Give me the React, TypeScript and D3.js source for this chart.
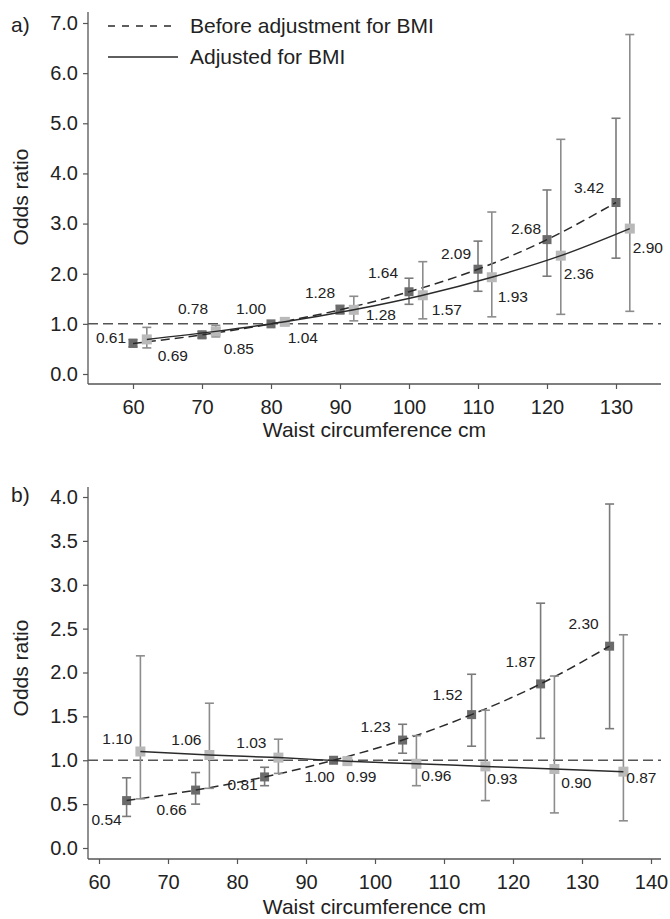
import React, { useEffect, useRef } from 'react'
import * as d3 from 'd3'

// panel a) waist 60..130, before / after BMI adjustment
const aBeforeX = [60, 70, 80, 90, 100, 110, 120, 130]
const aBeforeOR = [0.61, 0.78, 1.0, 1.28, 1.64, 2.09, 2.68, 3.42]
const aBeforeLo = [0.54, 0.72, null, 1.2, 1.39, 1.65, 1.95, 2.31]
const aBeforeHi = [0.69, 0.85, null, 1.37, 1.91, 2.65, 3.67, 5.1]

const aAdjX = [62, 72, 82, 92, 102, 112, 122, 132]
const aAdjOR = [0.69, 0.85, 1.04, 1.28, 1.57, 1.93, 2.36, 2.9]
const aAdjLo = [0.52, 0.74, 0.97, 1.06, 1.1, 1.14, 1.19, 1.25]
const aAdjHi = [0.93, 0.97, 1.12, 1.55, 2.24, 3.23, 4.68, 6.77]

// panel b)
const bBeforeX = [64, 74, 84, 94, 104, 114, 124, 134]
const bBeforeOR = [0.54, 0.66, 0.81, 1.0, 1.23, 1.52, 1.87, 2.3]
const bBeforeLo = [0.36, 0.5, 0.71, null, 1.08, 1.16, 1.25, 1.36]
const bBeforeHi = [0.8, 0.86, 0.92, null, 1.41, 1.98, 2.79, 3.92]

const bAdjX = [66, 76, 86, 96, 106, 116, 126, 136]
const bAdjOR = [1.1, 1.06, 1.03, 0.99, 0.96, 0.93, 0.9, 0.87]
const bAdjLo = [0.56, 0.68, 0.85, 0.95, 0.71, 0.54, 0.4, 0.31]
const bAdjHi = [2.19, 1.65, 1.24, 1.03, 1.28, 1.57, 1.96, 2.43]

const aXTicks = [60, 70, 80, 90, 100, 110, 120, 130]
const aYTicks = [0, 1, 2, 3, 4, 5, 6, 7]
const bXTicks = [60, 70, 80, 90, 100, 110, 120, 130, 140]
const bYTicks = [0, 0.5, 1, 1.5, 2, 2.5, 3, 3.5, 4]

// label offsets (px from marker centre), picked by eye
const aBeforeLab = [[-22, -6], [-9, -26], [-20, -15], [-20, -17], [-26, -19], [-22, -16], [-21, -11], [-27, -15]]
const aAdjLab = [[26, 16], [23, 17], [18, 16], [27, 5], [24, 14], [21, 19], [18, 18], [18, 19]]
const bBeforeLab = [[-20, 19], [-24, 19], [-22, 7], [-14, 16], [-27, -14], [-24, -20], [-20, -22], [-26, -23]]
const bAdjLab = [[-23, -13], [-23, -16], [-27, -15], [14, 15], [20, 12], [17, 12], [22, 13], [18, 6]]

const FONT = '"Liberation Sans", Arial, Helvetica, sans-serif'
const INK = '#222'
const AXIS = '#555'

function drawPanel(svg, p) {
    const g = svg.append('g')
    const x = d3.scaleLinear().domain(p.xDomain).range(p.xRange)
    const y = d3.scaleLinear().domain(p.yDomain).range(p.yRange)
    const left = 88, right = 661

    // axes lines
    g.append('line').attr('x1', left).attr('x2', left).attr('y1', p.axisBottom).attr('y2', p.axisTop)
        .attr('stroke', AXIS).attr('stroke-width', 1.3)
    g.append('line').attr('x1', left).attr('x2', right).attr('y1', p.axisBottom).attr('y2', p.axisBottom)
        .attr('stroke', AXIS).attr('stroke-width', 1.3)

    const yAx = g.append('g').attr('transform', `translate(${left},0)`)
        .call(d3.axisLeft(y).tickValues(p.yTicks).tickFormat(d3.format('.1f')).tickSize(5).tickPadding(5))
    yAx.select('.domain').remove()
    yAx.selectAll('line').attr('stroke', AXIS).attr('stroke-width', 1.2)
    yAx.selectAll('text').attr('font-family', FONT).attr('font-size', 20).attr('fill', INK)

    const xAx = g.append('g').attr('transform', `translate(0,${p.axisBottom})`)
        .call(d3.axisBottom(x).tickValues(p.xTicks).tickFormat(d3.format('d')).tickSize(5))
    xAx.select('.domain').remove()
    xAx.selectAll('line').attr('stroke', AXIS).attr('stroke-width', 1.2)
    xAx.selectAll('text').attr('font-family', FONT).attr('font-size', 20).attr('fill', INK)
        .attr('y', 30).attr('dy', 0)

    // reference line at OR = 1
    g.append('line').attr('x1', left).attr('x2', right).attr('y1', y(1)).attr('y2', y(1))
        .attr('stroke', AXIS).attr('stroke-width', 1.5).attr('stroke-dasharray', '10,5')

    const series = [
        { xs: p.beforeX, or: p.beforeOR, lo: p.beforeLo, hi: p.beforeHi, lab: p.beforeLab, fill: '#6b6b6b', size: 9, dash: '9,5', bar: '#7a7a7a' },
        { xs: p.adjX, or: p.adjOR, lo: p.adjLo, hi: p.adjHi, lab: p.adjLab, fill: '#b9b9b9', size: 10, dash: null, bar: '#8c8c8c' },
    ]

    series.forEach(s => {
        const pts = s.xs.map((v, i) => ({ x: v, or: s.or[i], lo: s.lo[i], hi: s.hi[i], lab: s.lab[i] }))
        const bars = g.append('g')
        pts.filter(d => d.lo != null).forEach(d => {
            bars.append('line').attr('x1', x(d.x)).attr('x2', x(d.x)).attr('y1', y(d.lo)).attr('y2', y(d.hi))
                .attr('stroke', s.bar).attr('stroke-width', 1.6)
            ;[d.lo, d.hi].forEach(v => {
                bars.append('line').attr('x1', x(d.x) - 4.5).attr('x2', x(d.x) + 4.5).attr('y1', y(v)).attr('y2', y(v))
                    .attr('stroke', s.bar).attr('stroke-width', 1.6)
            })
        })
        g.append('g').selectAll('rect').data(pts).enter().append('rect')
            .attr('x', d => x(d.x) - s.size / 2).attr('y', d => y(d.or) - s.size / 2)
            .attr('width', s.size).attr('height', s.size).attr('fill', s.fill)
        const line = d3.line().x(d => x(d.x)).y(d => y(d.or)).curve(d3.curveMonotoneX)
        g.append('path').datum(pts).attr('d', line).attr('fill', 'none')
            .attr('stroke', '#2a2a2a').attr('stroke-width', 1.5)
            .attr('stroke-dasharray', s.dash)
        g.append('g').selectAll('text').data(pts).enter().append('text')
            .attr('x', d => x(d.x) + d.lab[0]).attr('y', d => y(d.or) + d.lab[1])
            .attr('dy', '0.36em').attr('text-anchor', 'middle')
            .attr('font-family', FONT).attr('font-size', 15.5).attr('fill', INK)
            .text(d => d.or.toFixed(2))
    })

    g.append('text').attr('x', (left + right) / 2).attr('y', p.titleY).attr('text-anchor', 'middle')
        .attr('font-family', FONT).attr('font-size', 21).attr('fill', INK).text('Waist circumference cm')
    g.append('text').attr('transform', `translate(28,${p.yTitleY}) rotate(-90)`).attr('text-anchor', 'middle')
        .attr('font-family', FONT).attr('font-size', 21).attr('fill', INK).text('Odds ratio')
    g.append('text').attr('x', 11).attr('y', p.tagY)
        .attr('font-family', FONT).attr('font-size', 21).attr('fill', INK).text(p.tag)
}

export default function App() {
    const ref = useRef(null)

    useEffect(() => {
        const svg = d3.select(ref.current)
        svg.selectAll('*').remove()

        drawPanel(svg, {
            tag: 'a)', tagY: 32,
            xDomain: [60, 130], xRange: [133, 616],
            yDomain: [0, 7], yRange: [374, 23],
            axisTop: 12, axisBottom: 384,
            xTicks: aXTicks, yTicks: aYTicks,
            beforeX: aBeforeX, beforeOR: aBeforeOR, beforeLo: aBeforeLo, beforeHi: aBeforeHi, beforeLab: aBeforeLab,
            adjX: aAdjX, adjOR: aAdjOR, adjLo: aAdjLo, adjHi: aAdjHi, adjLab: aAdjLab,
            titleY: 437, yTitleY: 197,
        })
        drawPanel(svg, {
            tag: 'b)', tagY: 502,
            xDomain: [60, 140], xRange: [99, 651],
            yDomain: [0, 4], yRange: [848, 497],
            axisTop: 487, axisBottom: 859,
            xTicks: bXTicks, yTicks: bYTicks,
            beforeX: bBeforeX, beforeOR: bBeforeOR, beforeLo: bBeforeLo, beforeHi: bBeforeHi, beforeLab: bBeforeLab,
            adjX: bAdjX, adjOR: bAdjOR, adjLo: bAdjLo, adjHi: bAdjHi, adjLab: bAdjLab,
            titleY: 914, yTitleY: 668,
        })

        // legend
        const lg = svg.append('g')
        lg.append('line').attr('x1', 108).attr('x2', 176).attr('y1', 26).attr('y2', 26)
            .attr('stroke', '#2a2a2a').attr('stroke-width', 1.4).attr('stroke-dasharray', '7,7')
        lg.append('line').attr('x1', 108).attr('x2', 178).attr('y1', 57).attr('y2', 57)
            .attr('stroke', '#2a2a2a').attr('stroke-width', 1.4)
        lg.append('text').attr('x', 190).attr('y', 33).attr('font-family', FONT).attr('font-size', 21)
            .attr('fill', INK).text('Before adjustment for BMI')
        lg.append('text').attr('x', 190).attr('y', 64).attr('font-family', FONT).attr('font-size', 21)
            .attr('fill', INK).text('Adjusted for BMI')
    }, [])

    return (
        <svg ref={ref} width={670} height={919}
            style={{ position: 'absolute', left: 0, top: 0, background: '#fff' }} />
    )
}
